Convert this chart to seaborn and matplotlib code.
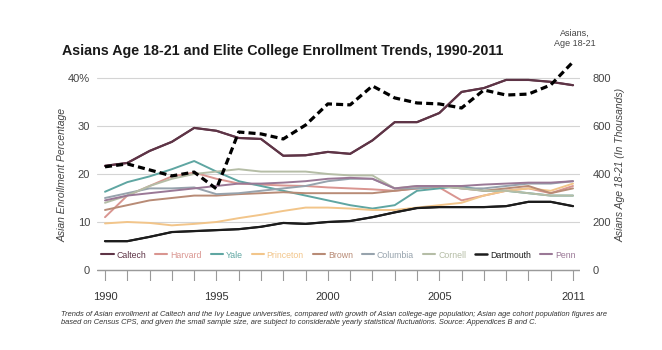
import matplotlib
matplotlib.use("Agg")
import matplotlib.pyplot as plt
import seaborn as sns
import pandas as pd
import numpy as np

# --- data ---
years = list(range(1990, 2012))

caltech = [21.7, 22.3, 24.8, 26.7, 29.6, 29.0, 27.5, 27.3, 23.8, 23.9, 24.6,
           24.2, 27.0, 30.8, 30.8, 32.7, 37.1, 37.9, 39.6, 39.6, 39.2, 38.5]
harvard = [11.0, 15.5, 17.5, 19.5, 20.3, 19.0, 18.0, 17.8, 17.6, 17.5, 17.2,
           17.0, 16.8, 16.5, 17.0, 17.2, 14.5, 15.5, 16.5, 17.0, 16.0, 17.5]
yale = [16.3, 18.3, 19.5, 21.0, 22.7, 20.5, 18.5, 17.5, 16.5, 15.5, 14.5,
        13.5, 12.8, 13.5, 16.5, 17.0, 17.5, 16.5, 16.5, 16.0, 15.5, 15.5]
princeton = [9.7, 10.0, 9.8, 9.3, 9.6, 10.0, 10.8, 11.5, 12.3, 13.0, 13.0,
             12.8, 12.5, 12.5, 13.0, 13.5, 14.0, 15.5, 16.5, 17.0, 16.5, 18.0]
brown = [12.5, 13.5, 14.5, 15.0, 15.5, 15.5, 15.8, 16.0, 16.2, 16.0, 16.0,
         16.0, 16.0, 16.5, 17.0, 17.5, 17.0, 16.5, 17.0, 17.5, 16.0, 17.0]
columbia = [15.0, 16.0, 17.0, 17.0, 17.2, 15.8, 16.0, 16.5, 17.0, 17.5, 18.5,
            19.0, 19.0, 17.0, 17.0, 17.5, 17.0, 17.0, 17.5, 18.0, 18.0, 18.5]
cornell = [14.0, 15.5, 17.5, 19.0, 20.0, 20.5, 21.0, 20.5, 20.5, 20.5, 20.0,
           19.7, 19.7, 17.0, 17.5, 17.5, 17.0, 16.5, 16.5, 16.0, 15.5, 15.5]
dartmouth = [6.0, 6.0, 6.9, 7.9, 8.1, 8.3, 8.5, 9.0, 9.8, 9.6, 10.0,
             10.2, 11.0, 12.0, 12.9, 13.1, 13.1, 13.1, 13.3, 14.2, 14.2, 13.3]
penn = [14.5, 15.5, 16.0, 16.5, 17.0, 17.5, 18.0, 18.0, 18.2, 18.5, 19.0,
        19.2, 19.0, 17.0, 17.5, 17.5, 17.5, 17.8, 18.0, 18.2, 18.2, 18.5]

asians_pop = [430, 442, 417, 392, 408, 338, 575, 567, 546, 604, 692,
              688, 767, 717, 696, 692, 675, 750, 729, 733, 771, 867]

schools = ["Caltech", "Harvard", "Yale", "Princeton", "Brown",
           "Columbia", "Cornell", "Dartmouth", "Penn"]
series = [caltech, harvard, yale, princeton, brown, columbia, cornell, dartmouth, penn]
colors = ["#5e3446", "#d99590", "#5fa6a2", "#f2c58a", "#b88b76",
          "#97a3ad", "#b5bda6", "#1c1c1c", "#9a7896"]

year_labels = [1990, 1995, 2000, 2005, 2011]

df = pd.DataFrame({
    "Year": years * len(schools),
    "School": [s for s in schools for _ in years],
    "Pct": [v for vals in series for v in vals],
})
df_pop = pd.DataFrame({"Year": years, "Pop": asians_pop})

sns.set_theme(style="white")
plt.rcParams['font.family'] = ['Liberation Sans', 'DejaVu Sans']

TICK_LEN = 2.3  # tick marks hang this far below the zero line (in % units)

fig = plt.figure(figsize=(6.62, 3.5), dpi=100)
ax = fig.add_axes([0.1465, 0.1971, 0.7295, 0.6486])

sns.lineplot(data=df, x="Year", y="Pct", hue="School", hue_order=schools,
             palette=colors, linewidth=1.4, ax=ax, legend=False)
# redraw caltech & dartmouth on top
for name in ["Dartmouth", "Caltech"]:
    sub = df[df.School == name]
    sns.lineplot(data=sub, x="Year", y="Pct", color=colors[schools.index(name)],
                 linewidth=1.6, ax=ax, legend=False)

ax.set_xlim(1989.64, 2011.31)
ax.set_ylim(-TICK_LEN, 45)
ax.set_yticks([0, 10, 20, 30, 40])
ax.set_yticklabels(["0", "10", "20", "30", "40%"])
ax.yaxis.grid(True, color="#d4d4d4", linewidth=0.8)
ax.set_axisbelow(True)
for sp in ax.spines.values():
    sp.set_visible(False)
ax.axhline(0, color="#9a9a9a", linewidth=1.0, zorder=1)
# small yearly marks hanging below the baseline
ax.vlines(years, -TICK_LEN, 0, color="#9a9a9a", linewidth=0.8, zorder=1)

ax.set_xticks(years)
ax.set_xticklabels([str(y) if y in year_labels else "" for y in years])
ax.tick_params(axis="x", length=0, pad=8, labelsize=8, labelcolor="#333333")
ax.tick_params(axis="y", length=0, pad=5, labelsize=8, labelcolor="#444444")
ax.set_xlabel("")
ax.set_ylabel("Asian Enrollment Percentage", fontsize=7.5, style="italic",
              color="#444444")
ax.yaxis.set_label_coords(-0.062, 0.467)

ax2 = ax.twinx()
sns.lineplot(data=df_pop, x="Year", y="Pop", color="black", linewidth=2.3,
             linestyle=(0, (2.2, 1.3)), ax=ax2, legend=False)
ax2.set_ylim(-TICK_LEN * 20, 900)
ax2.set_yticks([0, 200, 400, 600, 800])
ax2.tick_params(axis="y", length=0, pad=9, labelsize=8, labelcolor="#444444")
for sp in ax2.spines.values():
    sp.set_visible(False)
ax2.set_ylabel("Asians Age 18-21 (In Thousands)", fontsize=7.5, style="italic",
               color="#444444")
ax2.yaxis.set_label_coords(1.0745, 0.511)
ax2.grid(False)

ax2.annotate("Asians,\nAge 18-21", xy=(2011, 867), xytext=(2011.1, 965),
             textcoords="data", ha="center", va="center", fontsize=6.5,
             color="#444444", annotation_clip=False)

handles = [plt.Line2D([], [], color=c, linewidth=1.5 if s != "Dartmouth" else 1.8)
           for s, c in zip(schools, colors)]
leg = ax.legend(handles, schools, loc="center", bbox_to_anchor=(0.5, 0.1145),
                ncol=9, frameon=False, fontsize=6.3, handlelength=1.4,
                handletextpad=0.3, columnspacing=1.05)
for t, c in zip(leg.get_texts(), colors):
    t.set_color(c)

fig.text(0.094, 0.855, "Asians Age 18-21 and Elite College Enrollment Trends, 1990-2011",
         fontsize=10.3, fontweight="bold", color="#1a1a1a", ha="left", va="center")

caption = ("Trends of Asian enrollment at Caltech and the Ivy League universities, compared with growth of Asian "
           "college-age population; Asian age cohort population figures are\n"
           "based on Census CPS, and given the small sample size, are subject to considerable yearly "
           "statistical fluctuations. Source: Appendices B and C.")
fig.text(0.092, 0.09, caption, fontsize=5.4, style="italic", color="#333333",
         ha="left", va="center", linespacing=1.3)

fig.savefig("out.png", dpi=100, facecolor="white")
